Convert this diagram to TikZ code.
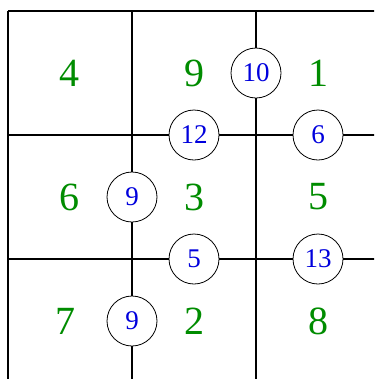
\documentclass[tikz,border=0pt]{standalone}
\usepackage{fontspec}
\setmainfont{Liberation Serif}
\usepackage{xcolor}
\usepackage{tikz}
\usetikzlibrary{positioning}
\definecolor{CellGreen}{HTML}{008C00}
\definecolor{CostBlue}{HTML}{0000DD}
\tikzset{
  wall/.style={line width=1.6pt},
  cellnum/.style={text=CellGreen,inner sep=0pt,font=\fontsize{40}{48}\selectfont},
  cost/.style={circle,draw,fill=white,line width=0.8pt,minimum size=50pt,inner sep=0pt,text=CostBlue,font=\fontsize{27}{32}\selectfont}
}

\begin{document}
\begin{tikzpicture}[x=124pt,y=124pt]
\useasboundingbox (-0.0645,0.0887) rectangle (2.9516,-2.9677);
\clip (-0.0645,0.0887) rectangle (2.9516,-2.9677);
% grid walls
\foreach \i in {0,1,2} {
  \draw[wall] (0,-\i)--(3,-\i);
  \draw[wall] (\i,0)--(\i,-3);
}
% cell values
\foreach \r/\c/\lab in {0/0/4,0/1/9,0/2/1,1/0/6,1/1/3,1/2/5,2/1/2,2/2/8} {
  \node[cellnum] (cell\r\c) at (\c+0.5,-\r-0.5) {\lab};
}
\node[cellnum] (cell20) at (0.46,-2.5) {7};
% costs on vertical walls
\node[cost] (v02) at (2,-0.5) {10};
\node[cost] (v11) at (1,-1.5) {9};
\node[cost] (v21) at (1,-2.5) {9};
% costs on horizontal walls
\node[cost] (h11) at (1.5,-1) {12};
\node[cost] (h12) at (2.5,-1) {6};
\node[cost] (h21) at (1.5,-2) {5};
\node[cost] (h22) at (2.5,-2) {13};
\end{tikzpicture}
\end{document}
